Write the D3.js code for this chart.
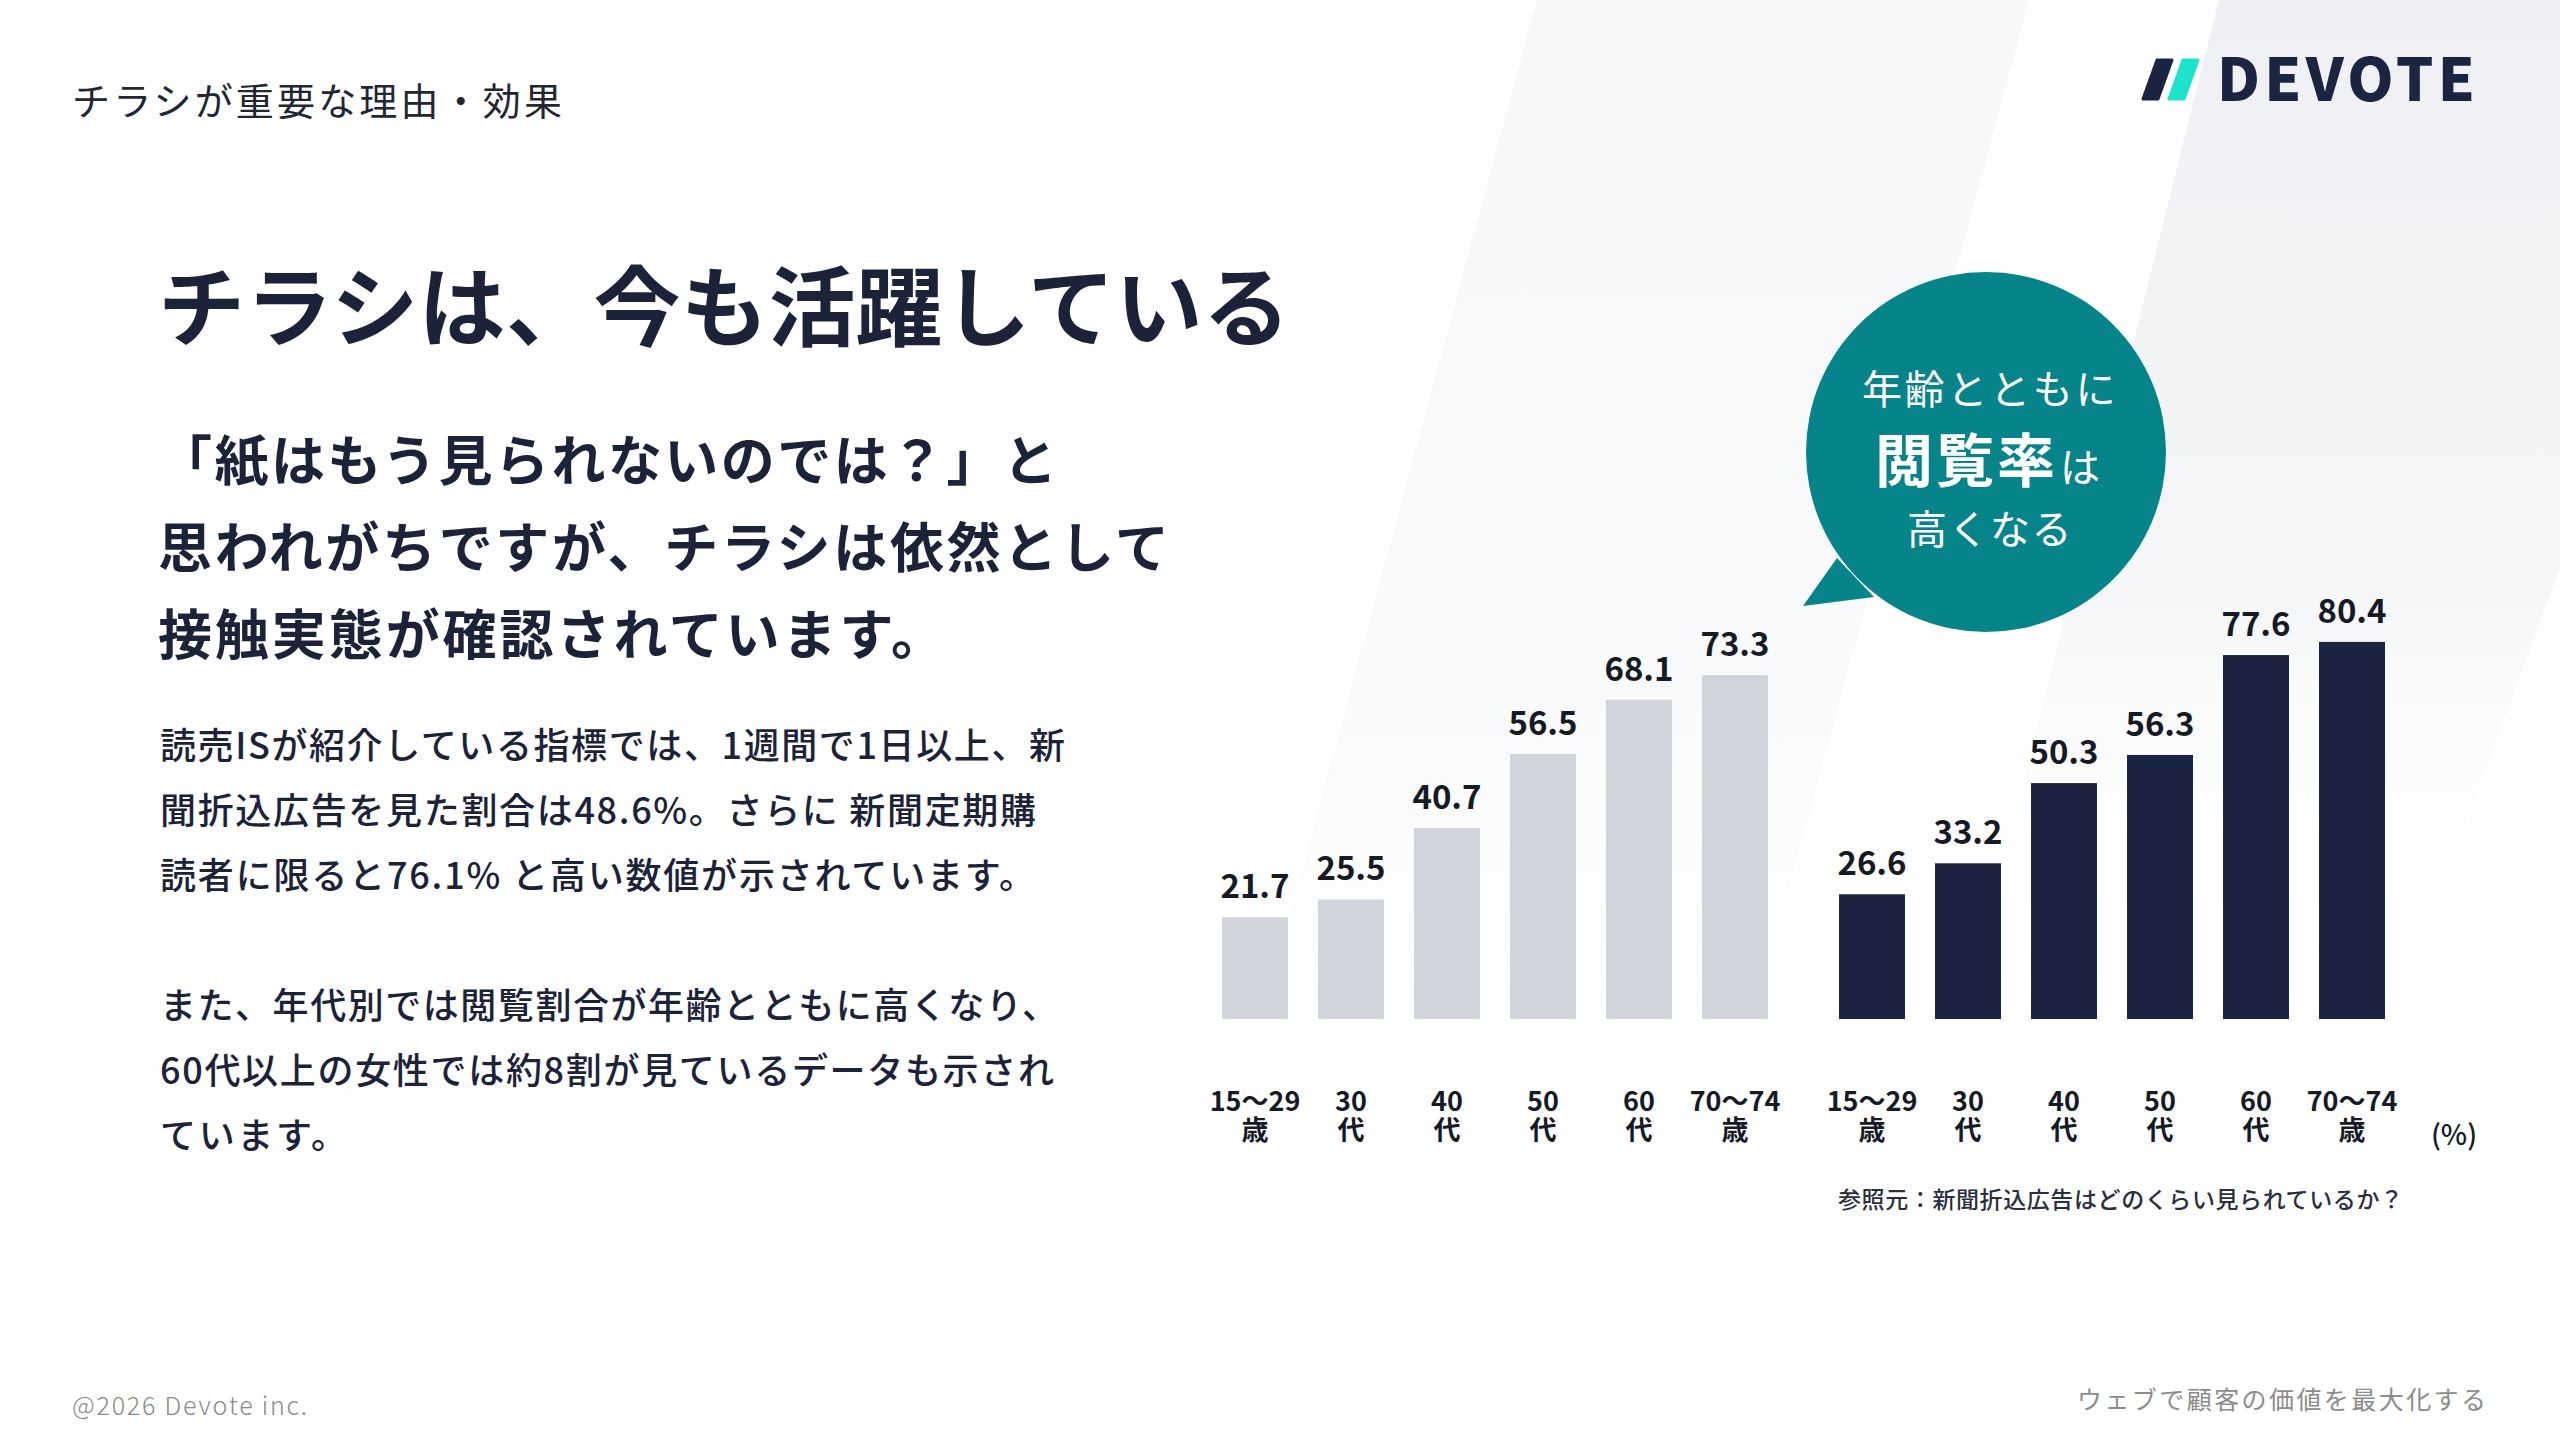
<!DOCTYPE html>
<html><head><meta charset="utf-8">
<script src="https://cdn.jsdelivr.net/npm/d3@7"></script>
<style>
html,body{margin:0;padding:0;background:#fff;}
svg{display:block;}
text{font-family:"Noto Sans CJK JP","Noto Sans",sans-serif;}
</style></head><body>
<svg id="chart" width="2560" height="1440"></svg>
<script>
// ---- data ----
const categories = ["15〜29歳","30代","40代","50代","60代","70〜74歳"];
const tickLine1 = ["15〜29","30","40","50","60","70〜74"];
const tickLine2 = ["歳","代","代","代","代","歳"];
const seriesGray = [21.7,25.5,40.7,56.5,68.1,73.3];
const seriesNavy = [26.6,33.2,50.3,56.3,77.6,80.4];
const unitLabel = "(%)";
const sourceText = "参照元：新聞折込広告はどのくらい見られているか？";
const headerText = "チラシが重要な理由・効果";
const titleText = "チラシは、今も活躍している";
const leadLines = ["「紙はもう見られないのでは？」と","思われがちですが、チラシは依然として","接触実態が確認されています。"];
const bodyLines = ["読売ISが紹介している指標では、1週間で1日以上、新","聞折込広告を見た割合は48.6%。さらに 新聞定期購","読者に限ると76.1% と高い数値が示されています。","","また、年代別では閲覧割合が年齢とともに高くなり、","60代以上の女性では約8割が見ているデータも示され","ています。"];
const bubbleLines = ["年齢とともに","閲覧率","は","高くなる"];
const footerLeft = "@2026 Devote inc.";
const footerRight = "ウェブで顧客の価値を最大化する";
const logoText = "DEVOTE";

const NAVY = "#1b2440", GRAY = "#d1d4da", TEAL = "#07848a", TXT = "#1c2338";

const svg = d3.select("#chart");
const defs = svg.append("defs");

// ---- background bands ----
const g1 = defs.append("linearGradient").attr("id","fadeA").attr("x1",0).attr("y1",0).attr("x2",0).attr("y2",1);
g1.append("stop").attr("offset","0%").attr("stop-color","#f6f7f9").attr("stop-opacity",1);
g1.append("stop").attr("offset","70%").attr("stop-color","#f8f9fa").attr("stop-opacity",0.8);
g1.append("stop").attr("offset","100%").attr("stop-color","#ffffff").attr("stop-opacity",0);
const g2 = defs.append("linearGradient").attr("id","fadeB").attr("x1",0).attr("y1",0).attr("x2",0).attr("y2",1);
g2.append("stop").attr("offset","0%").attr("stop-color","#eff0f3").attr("stop-opacity",1);
g2.append("stop").attr("offset","60%").attr("stop-color","#f3f4f6").attr("stop-opacity",0.8);
g2.append("stop").attr("offset","100%").attr("stop-color","#ffffff").attr("stop-opacity",0);
svg.append("rect").attr("width",2560).attr("height",1440).attr("fill","#fff");
svg.append("polygon").attr("points","1537,0 2029,0 1732,1100 1240,1100").attr("fill","url(#fadeA)");
svg.append("polygon").attr("points","2219,0 2770,0 2400,1000 1969,1000").attr("fill","url(#fadeB)");

// ---- header / texts ----
svg.append("text").attr("x",72).attr("y",115).attr("font-size",38).attr("font-weight",400)
  .attr("fill","#222633").attr("textLength",490).attr("lengthAdjust","spacing").text(headerText);
svg.append("text").attr("x",158).attr("y",340).attr("font-size",87).attr("font-weight",700)
  .attr("fill",TXT).attr("textLength",1132).attr("lengthAdjust","spacing").text(titleText);

const leadW = [899,1011,787];
const leadY = [481,568,655];
leadLines.forEach((t,i)=>{
  svg.append("text").attr("x",158).attr("y",leadY[i]).attr("font-size",54).attr("font-weight",700)
    .attr("fill",TXT).attr("textLength",leadW[i]).attr("lengthAdjust","spacing").text(t);
});
const bodyW = [905,876,875,0,898,894,187];
bodyLines.forEach((t,i)=>{
  if(!t) return;
  svg.append("text").attr("x",160).attr("y",759+65*i).attr("font-size",36).attr("font-weight",500)
    .attr("fill",TXT).attr("textLength",bodyW[i]).attr("lengthAdjust","spacing").text(t);
});

// ---- logo ----
const logo = svg.append("g");
logo.append("polygon").attr("points","2157,60 2172,60 2158,99 2143,99").attr("fill",NAVY)
  .attr("stroke",NAVY).attr("stroke-width",3).attr("stroke-linejoin","round");
logo.append("polygon").attr("points","2183,60 2198,60 2184,99 2169,99").attr("fill","#1de3cc")
  .attr("stroke","#1de3cc").attr("stroke-width",3).attr("stroke-linejoin","round");
logo.append("text").attr("x",2217).attr("y",101).attr("font-family","Lato, Inter, sans-serif")
  .attr("font-size",59).attr("font-weight",900).attr("fill",NAVY)
  .attr("textLength",258).attr("lengthAdjust","spacing").text(logoText);

// ---- chart ----
const y = d3.scaleLinear().domain([0,100]).range([1019,550]);
const xL = d3.scaleBand().domain(categories).range([1207,1783]).paddingInner(0.3125).paddingOuter(0.15625);
const xR = d3.scaleBand().domain(categories).range([1824,2400]).paddingInner(0.3125).paddingOuter(0.15625);

function drawGroup(x, vals, color){
  const g = svg.append("g");
  g.selectAll("rect").data(vals).join("rect")
    .attr("x",(d,i)=>x(categories[i])).attr("width",x.bandwidth())
    .attr("y",d=>y(d)).attr("height",d=>y(0)-y(d)).attr("fill",color);
  g.selectAll("text.val").data(vals).join("text").attr("class","val")
    .attr("x",(d,i)=>x(categories[i])+x.bandwidth()/2).attr("y",d=>y(d)-19)
    .attr("text-anchor","middle").attr("font-size",33).attr("font-weight",700)
    .attr("fill","#161a26").text(d=>d.toFixed(1));
  const ax = svg.append("g").attr("transform",`translate(0,${y(0)})`)
    .call(d3.axisBottom(x).tickSize(0).tickPadding(0));
  ax.attr("font-size",null).attr("font-family",null);
  ax.select(".domain").remove();
  ax.selectAll(".tick text").each(function(d,i){
    const t = d3.select(this);
    t.text(null).attr("y",null).attr("dy",null).attr("fill","#161a26")
      .attr("font-size",27).attr("font-weight",700).attr("text-anchor","middle");
    t.append("tspan").attr("x",0).attr("y",92).text(tickLine1[i]);
    t.append("tspan").attr("x",0).attr("y",121).text(tickLine2[i]);
  });
}
drawGroup(xL, seriesGray, GRAY);
drawGroup(xR, seriesNavy, NAVY);

svg.append("text").attr("x",2454).attr("y",1145).attr("text-anchor","middle")
  .attr("font-size",28).attr("font-weight",500).attr("fill","#161a26").text(unitLabel);
svg.append("text").attr("x",1838).attr("y",1208).attr("font-size",23).attr("font-weight",500)
  .attr("fill","#2a2f3d").attr("textLength",565).attr("lengthAdjust","spacing").text(sourceText);

// ---- bubble ----
const bub = svg.append("g");
bub.append("path").attr("d","M1837,558 L1803,606 L1874,597 Z").attr("fill",TEAL);
bub.append("circle").attr("cx",1986).attr("cy",452).attr("r",180).attr("fill",TEAL);
bub.append("text").attr("x",1990).attr("y",404).attr("text-anchor","middle").attr("font-size",40)
  .attr("font-weight",400).attr("fill","#fff").attr("letter-spacing",2.7).text(bubbleLines[0]);
const l2 = bub.append("text").attr("x",1875).attr("y",482).attr("fill","#fff");
l2.append("tspan").attr("font-size",58).attr("font-weight",700).attr("letter-spacing",3).text(bubbleLines[1]);
l2.append("tspan").attr("font-size",40).attr("font-weight",400).attr("dx",2).text(bubbleLines[2]);
bub.append("text").attr("x",1990).attr("y",544).attr("text-anchor","middle").attr("font-size",40)
  .attr("font-weight",400).attr("fill","#fff").attr("letter-spacing",1.5).text(bubbleLines[3]);

// ---- footer ----
svg.append("text").attr("x",72).attr("y",1415).attr("font-family","Lato, 'Noto Sans', sans-serif")
  .attr("font-size",25).attr("font-weight",300).attr("fill","#8a8a8a")
  .attr("textLength",235).attr("lengthAdjust","spacing").text(footerLeft);
svg.append("text").attr("x",2077).attr("y",1409).attr("font-size",25).attr("font-weight",400)
  .attr("fill","#8c8c8c").attr("textLength",409).attr("lengthAdjust","spacing").text(footerRight);
</script>
</body></html>
